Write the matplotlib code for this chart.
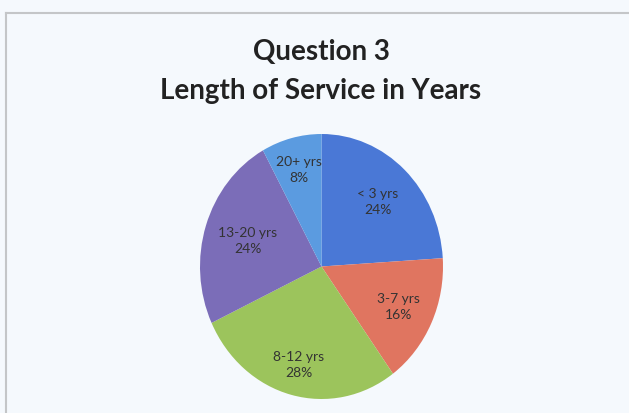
import numpy as np
import matplotlib.pyplot as plt
from matplotlib.lines import Line2D

groups = ['< 3 yrs', '3-7 yrs', '8-12 yrs', '13-20 yrs', '20+ yrs']
percents = [24, 16, 28, 24, 8]
colors = ['#4a78d6', '#e07560', '#9cc45c', '#7b6db8', '#5b9be0']

bg = '#f5f9fd'
fig = plt.figure(figsize=(6.29, 4.14), dpi=100, facecolor=bg)

# thin grey frame along the top and left edges
fig.add_artist(Line2D([6 / 629, 6 / 629], [0, 1 - 14 / 414],
                      transform=fig.transFigure, color='#c4c6c8', lw=1.5))
fig.add_artist(Line2D([6 / 629, 1], [1 - 14 / 414, 1 - 14 / 414],
                      transform=fig.transFigure, color='#c4c6c8', lw=1.5))

title_kw = dict(ha='center', va='center', fontsize=20, fontweight='bold',
                family='Lato', color='#222222')
fig.text(321 / 629, 1 - 52 / 414, 'Question 3', **title_kw)
fig.text(321 / 629, 1 - 91 / 414, 'Length of Service in Years', **title_kw)

ax = fig.add_axes([200 / 629, 14 / 414, 243 / 629, 265 / 414])
ax.set_facecolor(bg)
labels = [f'{g}\n{p}%' for g, p in zip(groups, percents)]
wedges, texts = ax.pie(percents, labels=labels, colors=colors, startangle=90,
                       counterclock=False, labeldistance=0.7,
                       textprops=dict(ha='center', va='center', fontsize=10,
                                      family='Lato', color='#333333',
                                      linespacing=1.4))

# nudge each label along its wedge's bisector
dists = [0.68, 0.7, 0.76, 0.64, 0.76]
for w, t, d in zip(wedges, texts, dists):
    mid = np.deg2rad((w.theta1 + w.theta2) / 2)
    t.set_position((d * np.cos(mid), d * np.sin(mid)))

ax.set_aspect('auto')
ax.set_xlim(-1, 1)
ax.set_ylim(-1, 1)

fig.savefig('out.png', dpi=100, facecolor=bg)
